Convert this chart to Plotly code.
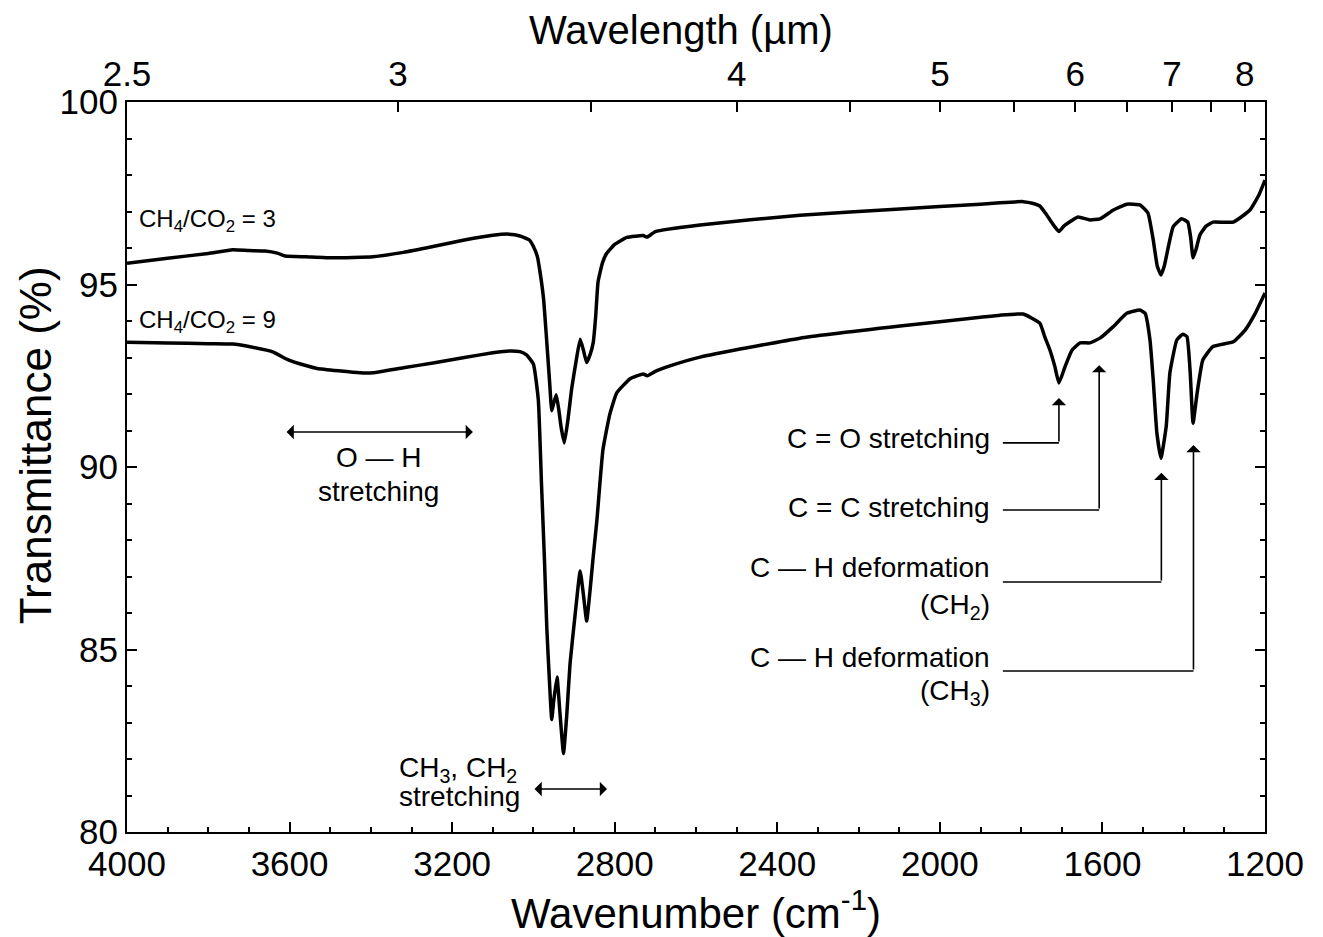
import plotly.graph_objects as go

FONT = "Liberation Sans, Arial, sans-serif"

# ---- data (wavenumber cm-1, transmittance %) ----
wn_3 = [4000, 3900, 3800, 3740, 3700, 3660, 3630, 3610, 3560, 3493, 3395, 3320, 3247, 3170, 3100,
        3060, 3033, 3010, 3000, 2990, 2984, 2975, 2967, 2960, 2955, 2950, 2944, 2938, 2932, 2924,
        2915, 2906, 2895, 2885, 2877, 2869, 2860, 2853, 2847, 2841, 2830, 2820, 2800, 2770, 2730,
        2720, 2700, 2590, 2344, 2098, 1900, 1852, 1795, 1770, 1754, 1740, 1729, 1715, 1707, 1695,
        1680, 1660, 1631, 1606, 1573, 1540, 1508, 1488, 1475, 1465, 1456, 1448, 1441, 1426, 1405,
        1390, 1383, 1377, 1370, 1360, 1345, 1328, 1278, 1237, 1215, 1200]
t_3 = [95.58, 95.72, 95.85, 95.95, 95.93, 95.92, 95.86, 95.78, 95.76, 95.73, 95.76, 95.88, 96.04, 96.22, 96.35,
       96.38, 96.33, 96.22, 96.04, 95.75, 95.36, 94.6, 93.40, 92.3, 91.54, 91.75, 91.98, 91.6, 91.1, 90.66,
       91.3, 92.14, 92.9, 93.5, 93.2, 92.86, 93.1, 93.4, 94.1, 95.07, 95.6, 95.85, 96.1, 96.29, 96.34,
       96.30, 96.45, 96.63, 96.9, 97.07, 97.2, 97.24, 97.27, 97.22, 97.15, 96.95, 96.77, 96.55, 96.45, 96.6,
       96.72, 96.85, 96.77, 96.8, 97.04, 97.2, 97.18, 96.96, 96.22, 95.5, 95.26, 95.5, 95.86, 96.58, 96.8,
       96.71, 96.3, 95.73, 95.95, 96.36, 96.6, 96.71, 96.71, 97.04, 97.45, 97.86]

wn_9 = [4000, 3900, 3800, 3740, 3700, 3640, 3606, 3560, 3532, 3427, 3395, 3320, 3247, 3170, 3100,
        3060, 3033, 3017, 3000, 2988, 2980, 2973, 2967, 2960, 2955, 2950, 2942, 2935, 2926, 2918,
        2910, 2897, 2885, 2877, 2869, 2860, 2853, 2844, 2829, 2812, 2795, 2762, 2730, 2720, 2700,
        2664, 2590, 2344, 2098, 1900, 1852, 1795, 1754, 1742, 1729, 1717, 1707, 1692, 1675, 1655,
        1631, 1606, 1574, 1540, 1508, 1495, 1483, 1475, 1466, 1456, 1443, 1434, 1417, 1402, 1392,
        1384, 1377, 1367, 1353, 1328, 1278, 1249, 1224, 1200]
t_9 = [93.42, 93.40, 93.38, 93.37, 93.3, 93.15, 92.95, 92.78, 92.7, 92.58, 92.58, 92.72, 92.85, 93.0, 93.13,
       93.18, 93.16, 93.07, 92.82, 91.84, 89.49, 87.5, 85.57, 84.0, 83.08, 83.6, 84.25, 83.3, 82.15, 83.2,
       84.6, 86.0, 87.15, 86.5, 85.78, 86.7, 87.53, 88.52, 90.47, 91.45, 92.03, 92.42, 92.55, 92.50, 92.62,
       92.77, 93.01, 93.53, 93.86, 94.1, 94.16, 94.19, 93.94, 93.57, 93.2, 92.75, 92.3, 92.75, 93.2, 93.4,
       93.4, 93.53, 93.84, 94.21, 94.3, 94.21, 93.48, 92.38, 90.93, 90.24, 91.12, 92.58, 93.48, 93.64, 93.57,
       92.58, 91.2, 92.03, 92.93, 93.3, 93.43, 93.75, 94.21, 94.77]

# axis ticks
x_major = [4000, 3600, 3200, 2800, 2400, 2000, 1600, 1200]
x_minor = list(range(3900, 1200, -100))
y_major = [80, 85, 90, 95, 100]
y_minor = [v for v in range(80, 101) if v % 5]
wl_major = [2.5, 3, 4, 5, 6, 7, 8]
wl_minor = [3.5, 4.5, 5.5, 6.5, 7.5]

fig = go.Figure()
line_style = dict(color="black", width=3.5, shape="spline", smoothing=0.4)
fig.add_trace(go.Scatter(x=wn_3, y=t_3, mode="lines", line=line_style, showlegend=False))
fig.add_trace(go.Scatter(x=wn_9, y=t_9, mode="lines", line=line_style, showlegend=False))
# helper trace to activate top axis
fig.add_trace(go.Scatter(x=[4000, 1200], y=[None, None], xaxis="x2", mode="lines",
                         showlegend=False, hoverinfo="skip"))

axis_common = dict(showline=True, linecolor="black", linewidth=2, ticks="inside",
                   ticklen=10, tickwidth=1.5, tickcolor="black", showgrid=False, zeroline=False,
                   tickfont=dict(family=FONT, size=35, color="black"))

fig.update_layout(
    width=1323, height=937,
    margin=dict(l=127, r=58, t=102, b=105),
    paper_bgcolor="white", plot_bgcolor="white",
    font=dict(family=FONT, color="black"),
    xaxis=dict(range=[4000, 1200], tickvals=x_major,
               minor=dict(tickvals=x_minor, ticks="inside", ticklen=5, tickwidth=1.5, tickcolor="black"),
               title=dict(text="Wavenumber (cm<sup>-1</sup>)", font=dict(family=FONT, size=42), standoff=10),
               **axis_common),
    xaxis2=dict(range=[4000, 1200], overlaying="x", side="top",
                tickvals=[10000 / w for w in wl_major], ticktext=[str(w) for w in wl_major],
                minor=dict(tickvals=[10000 / w for w in wl_minor], ticks="inside", ticklen=10,
                           tickwidth=1.5, tickcolor="black"),
                **axis_common),
    yaxis=dict(range=[80, 100], tickvals=y_major, mirror="ticks",
               minor=dict(tickvals=y_minor, ticks="inside", ticklen=5, tickwidth=1.5, tickcolor="black"),
               **axis_common),
)

# axis titles placed as in the reference
fig.add_annotation(x=0.4868, y=1.0986, xref="paper", yref="paper", text="Wavelength (µm)",
                   showarrow=False, xanchor="center", yanchor="middle",
                   font=dict(family=FONT, size=40, color="black"))
fig.add_annotation(x=-0.0808, y=0.530, xref="paper", yref="paper", text="Transmittance (%)",
                   showarrow=False, xanchor="center", yanchor="middle", textangle=-90,
                   font=dict(family=FONT, size=44, color="black"))

AFONT = dict(family=FONT, size=28, color="black")
SFONT = dict(family=FONT, size=24, color="black")

def text(x, y, s, anchor="center", font=AFONT):
    fig.add_annotation(x=x, y=y, xref="x", yref="y", text=s, showarrow=False,
                       xanchor=anchor, yanchor="middle", align=anchor if anchor != "center" else "center",
                       font=font)

def arrow(x, y, ax, ay, both=False):
    fig.add_annotation(x=x, y=y, ax=ax, ay=ay, xref="x", yref="y", axref="x", ayref="y",
                       text="", showarrow=True, arrowhead=1, arrowsize=1.5, arrowwidth=1.6,
                       arrowcolor="black", arrowside="end+start" if both else "end",
                       standoff=0, startstandoff=0, startarrowhead=1, startarrowsize=1.5)

def hline(x0, x1, y):
    fig.add_shape(type="line", xref="x", yref="y", x0=x0, x1=x1, y0=y, y1=y,
                  line=dict(color="black", width=1.6))

# series labels
text(3975, 96.74, "CH<sub>4</sub>/CO<sub>2</sub> = 3", anchor="left", font=SFONT)
text(3975, 94.0, "CH<sub>4</sub>/CO<sub>2</sub> = 9", anchor="left", font=SFONT)

# O-H stretching
arrow(3149, 90.96, 3611, 90.96, both=True)
text(3380, 90.25, "O — H")
text(3380, 89.32, "stretching")

# CH3, CH2 stretching
text(3336, 81.70, "CH<sub>3</sub>, CH<sub>2</sub>", anchor="left")
text(3336, 80.96, "stretching", anchor="left")
arrow(2819, 81.18, 3001, 81.18, both=True)

# right-side callouts
XR = 1872
XL = 1845
text(XR, 90.77, "C = O stretching", anchor="right")
hline(XL, 1707, 90.66)
arrow(1707, 91.89, 1707, 90.66)

text(XR, 88.90, "C = C stretching", anchor="right")
hline(XL, 1608, 88.82)
arrow(1608, 92.79, 1608, 88.82)

text(XR, 87.24, "C — H deformation", anchor="right")
text(XR, 86.17, "(CH<sub>2</sub>)", anchor="right")
hline(XL, 1455, 86.85)
arrow(1455, 89.84, 1455, 86.85)

text(XR, 84.77, "C — H deformation", anchor="right")
text(XR, 83.81, "(CH<sub>3</sub>)", anchor="right")
hline(XL, 1376, 84.41)
arrow(1376, 90.60, 1376, 84.41)

fig.write_html("out.html")
